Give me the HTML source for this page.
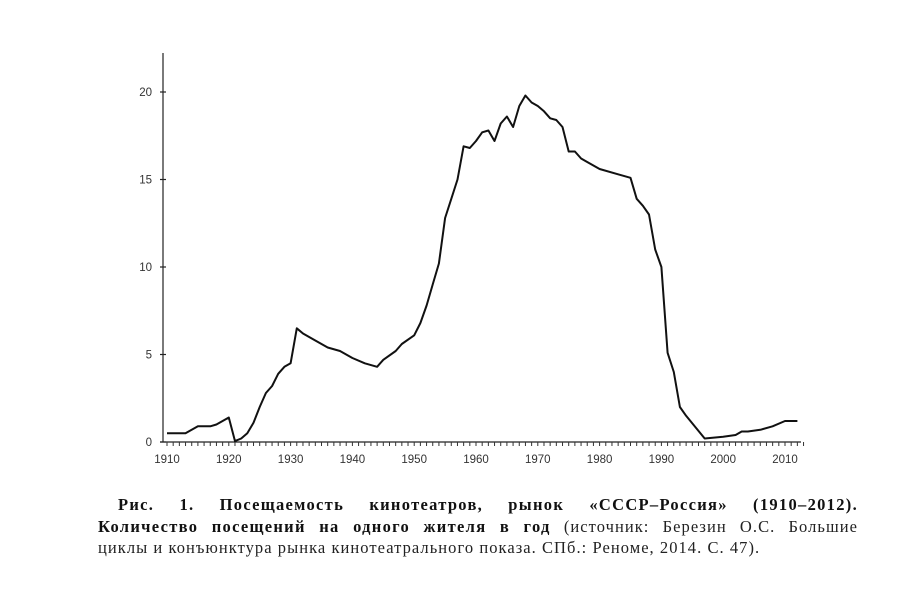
<!DOCTYPE html>
<html><head><meta charset="utf-8"><style>
body{margin:0;background:#fff;width:900px;height:590px;overflow:hidden;position:relative}
svg{position:absolute;left:0;top:0}
.cap{position:absolute;left:98px;width:760px;font-family:"Liberation Serif",serif;font-size:16.5px;letter-spacing:1.05px;line-height:21px;color:#222;white-space:nowrap}
.j{text-align:justify;text-align-last:justify}
.cap b{color:#111;letter-spacing:1.3px}
</style></head><body>
<svg id="s" width="900" height="480" font-family="Liberation Sans, sans-serif" font-size="11" fill="#333"></svg>
<div class="cap j" style="top:494px;left:118px;width:740px"><b>Рис. 1. Посещаемость кинотеатров, рынок «СССР–Россия» (1910–2012).</b></div>
<div class="cap j" style="top:516px"><b>Количество посещений на одного жителя в год</b> (источник: Березин О.С. Большие</div>
<div class="cap" style="top:537px">циклы и конъюнктура рынка кинотеатрального показа. СПб.: Реноме, 2014. С. 47).</div>
<script>
var d=[[1910,.5],[1913,.5],[1915,.9],[1917,.9],[1918,1],[1920,1.4],[1921,.05],[1922,.2],[1923,.5],[1924,1.1],[1925,2],[1926,2.8],[1927,3.2],[1928,3.9],[1929,4.3],[1930,4.5],[1931,6.5],[1932,6.2],[1934,5.8],[1936,5.4],[1938,5.2],[1940,4.8],[1942,4.5],[1944,4.3],[1945,4.7],[1947,5.2],[1948,5.6],[1950,6.1],[1951,6.8],[1952,7.8],[1953,9],[1954,10.2],[1955,12.8],[1956,13.9],[1957,15],[1958,16.9],[1959,16.8],[1960,17.2],[1961,17.7],[1962,17.8],[1963,17.2],[1964,18.2],[1965,18.6],[1966,18],[1967,19.2],[1968,19.8],[1969,19.4],[1970,19.2],[1971,18.9],[1972,18.5],[1973,18.4],[1974,18],[1975,16.6],[1976,16.6],[1977,16.2],[1978,16],[1980,15.6],[1983,15.3],[1985,15.1],[1986,13.9],[1987,13.5],[1988,13],[1989,11],[1990,10],[1991,5.1],[1992,4],[1993,2],[1994,1.5],[1997,.2],[2000,.3],[2002,.4],[2003,.6],[2004,.6],[2006,.7],[2008,.9],[2010,1.2],[2012,1.2]];
function X(y){return 167+(y-1910)*6.18}function Y(v){return 442-v*17.5}
var h='<line x1="163" y1="53" x2="163" y2="442" stroke="#222" stroke-width="1.2"/><line x1="160" y1="442" x2="801" y2="442" stroke="#222" stroke-width="1.2"/>';
for(var y=1910;y<=2013;y++){h+='<line x1="'+X(y)+'" y1="442" x2="'+X(y)+'" y2="446" stroke="#333" stroke-width="1"/>';}
for(var y=1910;y<=2010;y+=10)h+='<text x="'+X(y)+'" y="463" text-anchor="middle" font-size="11.5">'+y+'</text>';
for(var v=0;v<=20;v+=5){h+='<line x1="160" y1="'+Y(v)+'" x2="166" y2="'+Y(v)+'" stroke="#222" stroke-width="1.2"/><text x="152" y="'+(Y(v)+4)+'" text-anchor="end" font-size="11.5">'+v+'</text>';}
h+='<polyline fill="none" stroke="#111" stroke-width="2" stroke-linejoin="round" points="'+d.map(function(p){return X(p[0]).toFixed(1)+','+Y(p[1]).toFixed(1)}).join(' ')+'"/>';
document.getElementById('s').innerHTML=h;
</script>
</body></html>
